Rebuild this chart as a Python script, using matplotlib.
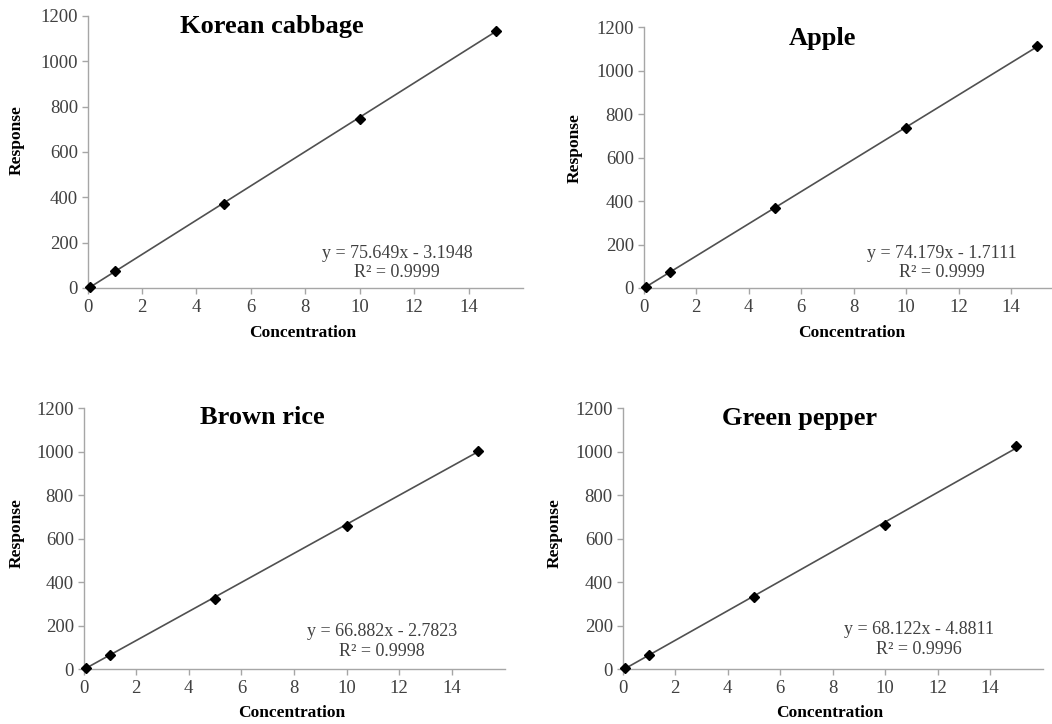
import numpy as np
import matplotlib
matplotlib.use('Agg')
import matplotlib.pyplot as plt

conc = [0.1, 1, 5, 10, 15]

titles = ['Korean cabbage', 'Apple', 'Brown rice', 'Green pepper']
responses = [
    [5, 75, 370, 745, 1134],
    [5, 72, 368, 735, 1115],
    [5, 63, 324, 656, 1005],
    [5, 63, 330, 661, 1026],
]
slopes = [75.649, 74.179, 66.882, 68.122]
intercepts = [-3.1948, -1.7111, -2.7823, -4.8811]
r2 = ['0.9999', '0.9999', '0.9998', '0.9996']

W, H = 1052, 724
# axes boxes in pixels: left, top, right, bottom
boxes = [(87.6, 16, 523, 288), (643.5, 27.3, 1063.5, 288),
         (83.5, 408.3, 504.5, 669), (622.5, 408.3, 1042.5, 669)]
title_pos = [(272, 27), (822, 38), (262, 418), (800, 419)]
eq_pos = [(397, 253), (942, 253), (382, 632), (919, 630)]
xlab_pos = [(303, 333), (852, 333), (292, 713), (830, 713)]
ylab_pos = [(17, 140), (575, 148), (17, 533), (555, 533)]

plt.rcParams['font.family'] = ['Liberation Serif', 'DejaVu Serif']

fig = plt.figure(figsize=(W / 100, H / 100), dpi=100)
tc = '#404040'

for i in range(4):
    l, t, r, b = boxes[i]
    ax = fig.add_axes([l / W, 1 - b / H, (r - l) / W, (b - t) / H])
    ax.set_xlim(0, 16)
    ax.set_ylim(0, 1200)
    ax.set_xticks(range(0, 16, 2))
    ax.set_yticks(range(0, 1201, 200))
    for s in ['top', 'right']:
        ax.spines[s].set_visible(False)
    for s in ['left', 'bottom']:
        ax.spines[s].set_color('#a6a6a6')
        ax.spines[s].set_linewidth(1.0)
    ax.tick_params(colors='#a6a6a6', labelcolor=tc, labelsize=13.5, length=4, width=1, direction='out')
    ax.tick_params(axis='x', pad=4)
    ax.tick_params(axis='y', pad=3)

    xs = np.array([conc[0], conc[-1]])
    ax.plot(xs, slopes[i] * xs + intercepts[i], color='#505050', lw=1.2, clip_on=False)
    ax.plot(conc, responses[i], linestyle='none', marker='D', ms=5, color='black', clip_on=False, zorder=3)

    fig.text(title_pos[i][0] / W, 1 - title_pos[i][1] / H, titles[i], ha='center', va='center',
             fontsize=19, fontweight='bold', color='black')
    sign = '-' if intercepts[i] < 0 else '+'
    eq = 'y = %.3fx %s %.4f' % (slopes[i], sign, abs(intercepts[i]))
    fig.text(eq_pos[i][0] / W, 1 - eq_pos[i][1] / H, eq, ha='center', va='center', fontsize=13, color=tc)
    fig.text(eq_pos[i][0] / W, 1 - (eq_pos[i][1] + 19.5) / H, 'R² = ' + r2[i], ha='center', va='center',
             fontsize=13, color=tc)
    fig.text(xlab_pos[i][0] / W, 1 - xlab_pos[i][1] / H, 'Concentration', ha='center', va='center',
             fontsize=12.5, fontweight='bold', color='black')
    fig.text(ylab_pos[i][0] / W, 1 - ylab_pos[i][1] / H, 'Response', ha='center', va='center',
             rotation=90, fontsize=12.5, fontweight='bold', color='black')

fig.savefig('out.png', dpi=100)
